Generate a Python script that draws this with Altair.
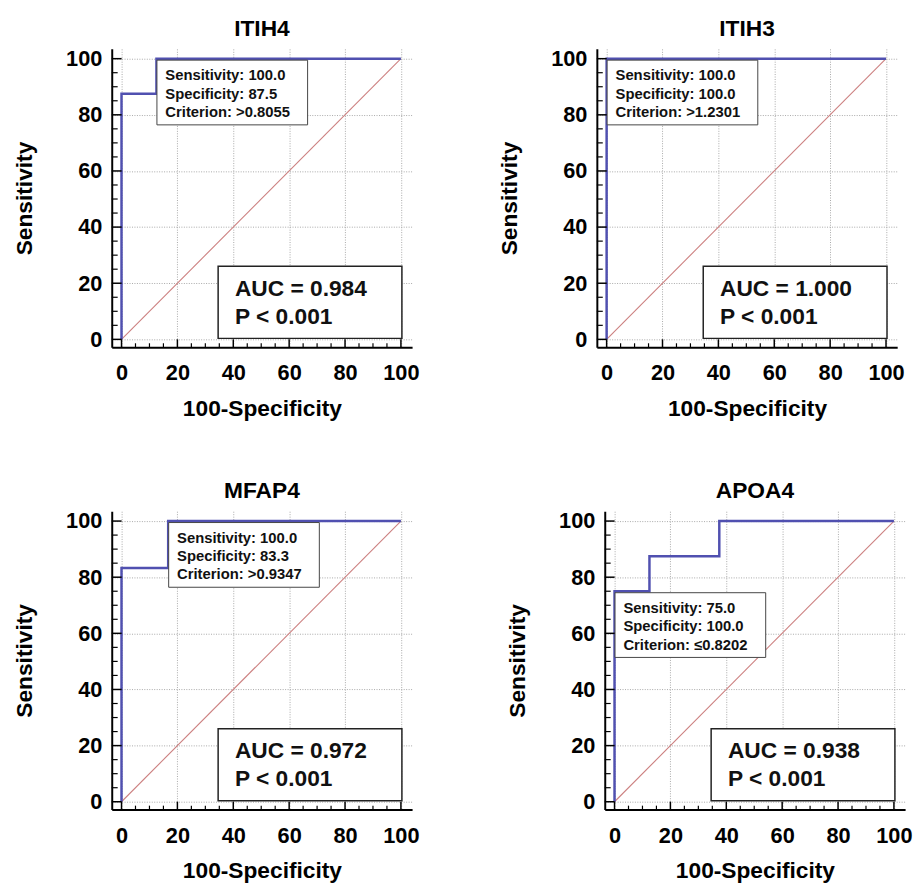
import altair as alt
import pandas as pd

# ---- data ----
names = ["ITIH4", "ITIH3", "MFAP4", "APOA4"]
roc_x = [
    [0, 0, 12.5, 12.5, 100],
    [0, 0, 100],
    [0, 0, 16.7, 16.7, 100],
    [0, 0, 12.5, 12.5, 37.5, 37.5, 100],
]
roc_y = [
    [0, 87.5, 87.5, 100, 100],
    [0, 100, 100],
    [0, 83.3, 83.3, 100, 100],
    [0, 75, 75, 87.5, 87.5, 100, 100],
]
sensitivity = [100.0, 100.0, 100.0, 75.0]
specificity = [87.5, 100.0, 83.3, 100.0]
criterion = [">0.8055", ">1.2301", ">0.9347", "\u22640.8202"]
auc = ["0.984", "1.000", "0.972", "0.938"]
p_value = ["P < 0.001", "P < 0.001", "P < 0.001", "P < 0.001"]
diag_vals = [0, 100]
major_ticks = [0, 20, 40, 60, 80, 100]
minor_ticks = [5, 10, 15, 25, 30, 35, 45, 50, 55, 65, 70, 75, 85, 90, 95]

FONT = "Liberation Sans"
W, H = 304, 302
BLUE = "#5050b0"
DIAG = "#cc7f7f"

xscale = alt.Scale(domain=[-3.5, 104], nice=False, zero=False)
yscale = alt.Scale(domain=[-2.8, 103.5], nice=False, zero=False)
xaxis = alt.Axis(values=major_ticks, title="100-Specificity")
yaxis = alt.Axis(values=major_ticks, title="Sensitivity")


def X(field="x"):
    return alt.X(f"{field}:Q", scale=xscale, axis=xaxis)


def Y(field="y"):
    return alt.Y(f"{field}:Q", scale=yscale, axis=yaxis)


def panel(i):
    diag = alt.Chart(pd.DataFrame({"x": diag_vals, "y": diag_vals})).mark_line(
        color=DIAG, strokeWidth=1.1
    ).encode(x=X(), y=Y())

    roc_df = pd.DataFrame({"x": roc_x[i], "y": roc_y[i], "o": list(range(len(roc_x[i])))})
    roc = alt.Chart(roc_df).mark_line(color=BLUE, strokeWidth=2.5).encode(
        x=X(), y=Y(), order="o:Q"
    )

    cut_df = pd.DataFrame({
        "x": [100 - specificity[i]],
        "y": [sensitivity[i]],
        "label": [f"Sensitivity: {sensitivity[i]:.1f}\nSpecificity: {specificity[i]:.1f}\nCriterion: {criterion[i]}"],
    })
    cut_box = alt.Chart(cut_df).mark_rect(
        fill="white", stroke="#444444", strokeWidth=1,
        xOffset=0.5, x2Offset=153, yOffset=1.5, y2Offset=67,
    ).encode(x=X(), x2="x:Q", y=Y(), y2="y:Q")
    cut_text = alt.Chart(cut_df).mark_text(
        align="left", baseline="alphabetic", dx=9, dy=22, lineBreak="\n",
        lineHeight=18.5, font=FONT, fontSize=15, fontWeight="bold", color="#111111",
    ).encode(x=X(), y=Y(), text="label:N")

    auc_df = pd.DataFrame({
        "x": [100], "y": [0],
        "label": [f"AUC = {auc[i]}\n{p_value[i]}"],
    })
    auc_box = alt.Chart(auc_df).mark_rect(
        fill="white", stroke="#222222", strokeWidth=1.5,
        xOffset=-185, x2Offset=1, yOffset=-74, y2Offset=-1,
    ).encode(x=X(), x2="x:Q", y=Y(), y2="y:Q")
    auc_text = alt.Chart(auc_df).mark_text(
        align="left", baseline="alphabetic", dx=-168, dy=-44, lineBreak="\n",
        lineHeight=28, font=FONT, fontSize=23, fontWeight="bold", color="#111111",
    ).encode(x=X(), y=Y(), text="label:N")

    xt_major = alt.Chart(pd.DataFrame({"x": major_ticks})).mark_rule(
        color="black", strokeWidth=1.5
    ).encode(x=X(), y=alt.value(H), y2=alt.value(H - 8))
    xt_minor = alt.Chart(pd.DataFrame({"x": minor_ticks})).mark_rule(
        color="black", strokeWidth=1.2
    ).encode(x=X(), y=alt.value(H), y2=alt.value(H - 4))
    yt_major = alt.Chart(pd.DataFrame({"y": major_ticks})).mark_rule(
        color="black", strokeWidth=1.5
    ).encode(y=Y(), x=alt.value(0), x2=alt.value(10))
    yt_minor = alt.Chart(pd.DataFrame({"y": minor_ticks})).mark_rule(
        color="black", strokeWidth=1.2
    ).encode(y=Y(), x=alt.value(0), x2=alt.value(6))

    return alt.layer(
        diag, roc, cut_box, cut_text, auc_box, auc_text,
        xt_major, xt_minor, yt_major, yt_minor,
    ).properties(
        width=W, height=H,
        title=alt.TitleParams(names[i], font=FONT, fontSize=23, fontWeight="bold",
                              color="black", offset=7, anchor="middle"),
    )


row1 = alt.hconcat(panel(0), panel(1), spacing=79)
row2 = alt.hconcat(panel(2), panel(3), spacing=87)

chart = alt.vconcat(row1, row2, spacing=60).properties(
    padding={"left": 5, "top": 4, "right": 0, "bottom": 0}
).configure_view(stroke=None).configure_axis(
    labelFont=FONT, labelFontSize=22, labelFontWeight="bold", labelColor="black",
    titleFont=FONT, titleFontSize=23, titleFontWeight="bold", titleColor="black",
    domainColor="black", domainWidth=2, ticks=False,
    grid=True, gridColor="#a8a8a8", gridDash=[1, 1.5], gridWidth=1,
).configure_axisX(
    labelPadding=16, titlePadding=14, labelFlush=False,
).configure_axisY(
    labelPadding=10, titlePadding=30, labelFlush=False,
)

chart.save("out.html", embed_options={"renderer": "svg", "actions": False})
